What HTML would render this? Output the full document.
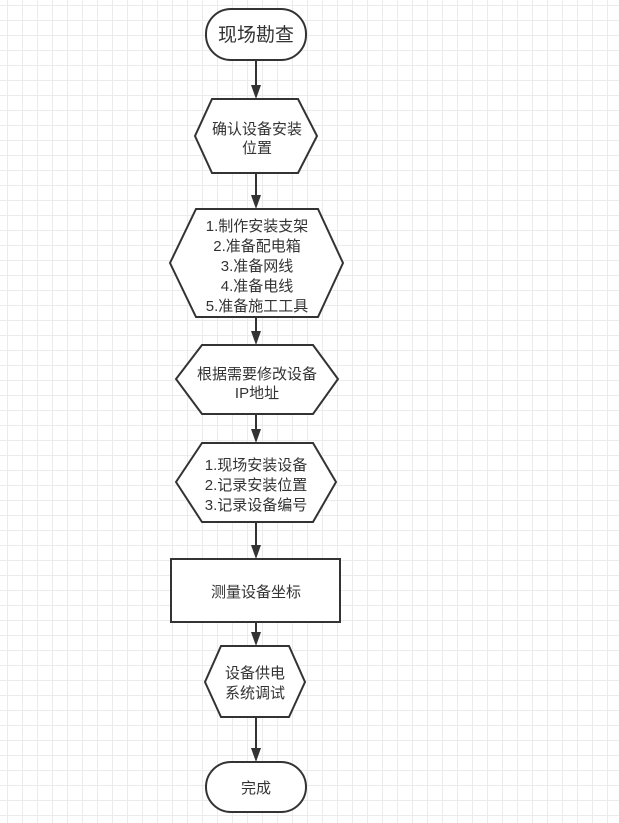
<!DOCTYPE html>
<html><head><meta charset="utf-8"><style>
html,body{margin:0;padding:0}
body{width:619px;height:823px;overflow:hidden;background:#fff;
background-image:linear-gradient(to right,#ebebeb 1px,transparent 1px),linear-gradient(to bottom,#ebebeb 1px,transparent 1px);
background-size:15px 15px;background-position:7px 5px;}
svg{position:absolute;left:0;top:0}
text{font-family:"Liberation Sans","Noto Sans CJK SC",sans-serif;fill:#333;text-anchor:middle;font-size:15px}
</style></head><body>
<svg width="619" height="823" viewBox="0 0 619 823">
<g stroke="#333" stroke-width="2" fill="#fff">
<rect x="206" y="9" width="100" height="51" rx="25"/>
<polygon points="212,99 298,99 317,136 298,173 212,173 195,136"/>
<polygon points="196,209 318,209 343,263 318,317 196,317 170,263"/>
<polygon points="202,345 313,345 338,379 313,414 202,414 176,379"/>
<polygon points="202,443 313,443 336,482 313,522 202,522 176,482"/>
<rect x="171" y="559" width="169" height="63"/>
<polygon points="221,646 289,646 305,682 289,717 221,717 205,682"/>
<rect x="206" y="762" width="100" height="50" rx="25"/>
</g>
<g stroke="#333" stroke-width="2" fill="none">
<line x1="256" y1="60" x2="256" y2="90"/>
<line x1="256" y1="173" x2="256" y2="200"/>
<line x1="256" y1="317" x2="256" y2="336"/>
<line x1="256" y1="414" x2="256" y2="434"/>
<line x1="256" y1="522" x2="256" y2="550"/>
<line x1="256" y1="622" x2="256" y2="637"/>
<line x1="256" y1="717" x2="256" y2="753"/>
</g>
<g fill="#333">
<path d="M251,85 L261,85 L256,99 Z"/>
<path d="M251,195 L261,195 L256,209 Z"/>
<path d="M251,331 L261,331 L256,345 Z"/>
<path d="M251,429 L261,429 L256,443 Z"/>
<path d="M251,545 L261,545 L256,559 Z"/>
<path d="M251,632 L261,632 L256,646 Z"/>
<path d="M251,748 L261,748 L256,762 Z"/>
</g>
<text x="256" y="41" style="font-size:19px">现场勘查</text>
<text x="257" y="134">确认设备安装</text>
<text x="257" y="153">位置</text>
<text x="257" y="231">1.制作安装支架</text>
<text x="257" y="251">2.准备配电箱</text>
<text x="257" y="271">3.准备网线</text>
<text x="257" y="291">4.准备电线</text>
<text x="257" y="311">5.准备施工工具</text>
<text x="257" y="379">根据需要修改设备</text>
<text x="257" y="398">IP地址</text>
<text x="256" y="470">1.现场安装设备</text>
<text x="256" y="490">2.记录安装位置</text>
<text x="256" y="510">3.记录设备编号</text>
<text x="256" y="597">测量设备坐标</text>
<text x="255" y="678">设备供电</text>
<text x="255" y="698">系统调试</text>
<text x="256" y="793">完成</text>
</svg>
</body></html>
